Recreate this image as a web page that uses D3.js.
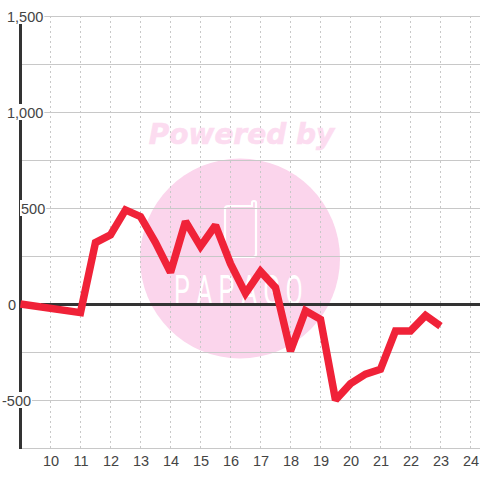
<!DOCTYPE html>
<html><head><meta charset="utf-8">
<script src="https://cdn.jsdelivr.net/npm/d3@7"></script>
<style>html,body{margin:0;padding:0;background:#fff}svg{display:block}</style></head>
<body><svg id="c" width="480" height="480"></svg>
<script>
const xs = [9,11,11.5,12,12.5,13,13.5,14,14.5,15,15.5,16,16.5,17,17.5,18,18.5,19,19.5,20,20.5,21,21.5,22,22.5,23];
const ys = [0,-45,320,360,490,455,320,165,430,300,410,210,55,170,85,-245,-35,-80,-500,-415,-365,-340,-140,-140,-60,-115];
const xTicks = [10,11,12,13,14,15,16,17,18,19,20,21,22,23,24];
const yGrid = [1500,1250,1000,750,500,250,-250,-500,-750];
const yLabels = [1500,1000,500,0,-500];
const labelText = ["1,500","1,000","500","0","-500"];
const labelLeft = [7,7,21,8,2];
const watermarkTop = "Powered by";
const watermarkLogo = ["P","A","P","A","G","O"];

const svg = d3.select("#c");
const x = d3.scaleLinear().domain([9,24.67]).range([20.5,490.6]);
const y = d3.scaleLinear().domain([1500,-750]).range([16,448]);
const font = "'Liberation Sans',Arial,sans-serif";

// watermark
svg.append("text").attr("x",241.5).attr("y",144).attr("text-anchor","middle")
  .attr("font-family","'DejaVu Sans'").attr("font-weight","bold").attr("font-style","oblique")
  .attr("font-size",28).attr("fill","#fcdcf0").attr("stroke","#fcdcf0").attr("stroke-width",0.6).text(watermarkTop);
svg.append("circle").attr("cx",240).attr("cy",258.5).attr("r",100).attr("fill","#fbd5ec");
svg.append("path").attr("d","M229 206H252V203a2 2 0 0 1 4 0V254a3 3 0 0 1-3 3H228a3 3 0 0 1-3-3V209a3 3 0 0 1 3-3Z")
  .attr("fill","none").attr("stroke","#fff").attr("stroke-width",2.2);
svg.append("g").selectAll("text").data(watermarkLogo).join("text")
  .attr("transform",(d,i)=>`translate(${174+22.3*i},305) scale(1.25,2.1)`)
  .attr("font-family","Roboto").attr("font-size",20).attr("fill","#fff")
  .text(d=>d);

// grid
svg.append("g").selectAll("line").data(xTicks).join("line")
  .attr("x1",d=>x(d)).attr("x2",d=>x(d)).attr("y1",y(1500)).attr("y2",y(-750))
  .attr("stroke","#c8c8c8").attr("stroke-dasharray","2,3");
svg.append("g").selectAll("line").data(yGrid).join("line")
  .attr("x1",20).attr("x2",480).attr("y1",d=>y(d)+0.5).attr("y2",d=>y(d)+0.5)
  .attr("stroke","#c8c8c8").attr("stroke-width",1);

// axis + zero line
svg.append("line").attr("x1",20.5).attr("x2",20.5).attr("y1",16).attr("y2",449).attr("stroke","#333").attr("stroke-width",3);
svg.append("line").attr("x1",41).attr("x2",480).attr("y1",y(0)+0.5).attr("y2",y(0)+0.5).attr("stroke","#333").attr("stroke-width",3);

// y labels with background
const yl = svg.append("g").selectAll("g").data(yLabels).join("g");
yl.each(function(d,i){
  const g = d3.select(this);
  const t = g.append("text").attr("x",labelLeft[i]).attr("y",y(d)+5.5)
    .attr("font-family",font).attr("font-size",14.5).attr("fill","#444").text(labelText[i]);
  if(d!==0){
    const b = t.node().getBBox();
    g.insert("rect","text").attr("x",b.x-1).attr("y",y(d)-8).attr("width",b.width+2).attr("height",16).attr("fill","#fff");
  }
});
// x labels
svg.append("g").selectAll("text").data(xTicks).join("text")
  .attr("x",d=>x(d)+0.5).attr("y",y(-750)+18).attr("text-anchor","middle")
  .attr("font-family",font).attr("font-size",14.5).attr("fill","#444").text(d=>d);

// series
svg.append("path").attr("d",d3.line().x((d,i)=>x(xs[i])).y(d=>y(d))(ys))
  .attr("fill","none").attr("stroke","#f02238").attr("stroke-width",7.5)
  .attr("stroke-linejoin","miter").attr("stroke-miterlimit",2);
</script></body></html>
